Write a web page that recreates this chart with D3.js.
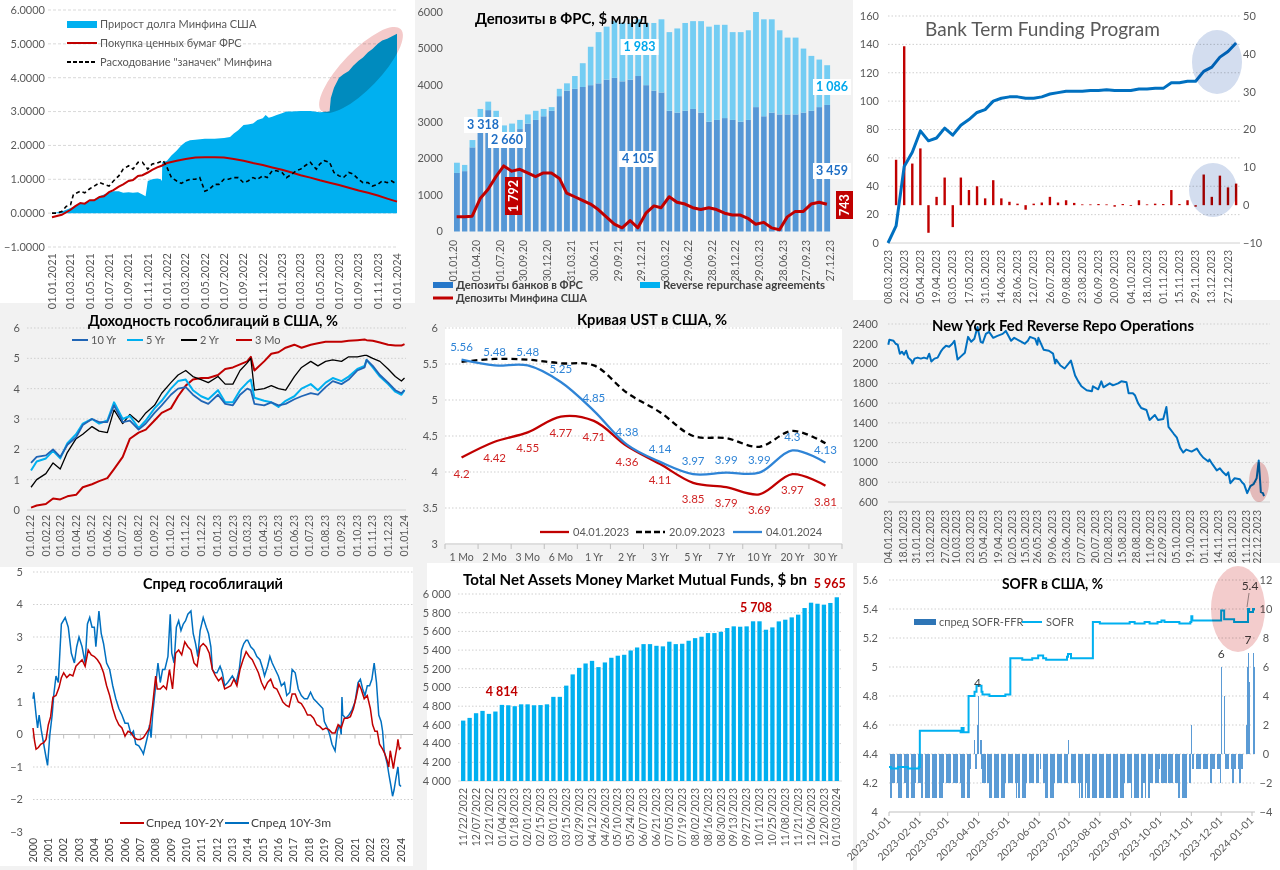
<!DOCTYPE html>
<html><head><meta charset="utf-8">
<script src="https://cdn.jsdelivr.net/npm/d3@7"></script>
<style>
body{margin:0;background:#f2f2f2;}
svg{display:block;font-family:Lato,"Noto Sans",sans-serif;}
</style></head><body>
<svg id="c" width="1280" height="870"></svg>
<script>
// ================= DATA =================
// Panel 1: cumulative, $ trn
const debtGrowth = [["2021-01-01",0],["2021-01-15",0.02],["2021-02-01",0.05],["2021-02-15",0.1],["2021-03-01",0.15],["2021-03-15",0.2],["2021-04-01",0.3],["2021-04-15",0.3],["2021-05-01",0.35],["2021-05-15",0.4],["2021-06-01",0.5],["2021-06-15",0.55],["2021-07-01",0.62],["2021-07-15",0.65],["2021-08-01",0.65],["2021-08-15",0.6],["2021-09-01",0.62],["2021-09-15",0.6],["2021-10-01",0.62],["2021-10-15",0.55],["2021-10-25",0.5],["2021-11-01",0.95],["2021-11-15",1.0],["2021-12-01",1.02],["2021-12-12",1.0],["2021-12-16",0.95],["2021-12-17",1.5],["2022-01-01",1.55],["2022-01-15",1.7],["2022-02-01",1.85],["2022-02-15",2.0],["2022-03-01",2.1],["2022-03-15",2.15],["2022-04-01",2.17],["2022-05-01",2.2],["2022-06-01",2.2],["2022-07-01",2.22],["2022-07-20",2.25],["2022-08-01",2.35],["2022-08-15",2.45],["2022-09-01",2.6],["2022-09-15",2.62],["2022-10-01",2.65],["2022-10-15",2.75],["2022-11-01",2.8],["2022-11-10",2.9],["2022-11-20",2.82],["2022-12-01",2.85],["2022-12-15",2.9],["2023-01-01",2.95],["2023-01-15",3.0],["2023-02-01",3.0],["2023-03-01",3.02],["2023-04-01",3.02],["2023-05-01",2.98],["2023-06-01",3.0],["2023-06-05",3.4],["2023-06-15",3.7],["2023-07-01",4.0],["2023-07-15",4.1],["2023-08-01",4.2],["2023-08-15",4.35],["2023-09-01",4.5],["2023-09-15",4.6],["2023-10-01",4.75],["2023-10-15",4.85],["2023-11-01",5.0],["2023-11-15",5.1],["2023-12-01",5.15],["2023-12-15",5.22],["2024-01-01",5.3]];
const fedPurchases = [["2021-01-01",-0.12],["2021-02-01",-0.05],["2021-03-01",0.1],["2021-03-15",0.2],["2021-04-01",0.3],["2021-04-15",0.28],["2021-05-01",0.38],["2021-05-15",0.38],["2021-06-01",0.48],["2021-06-15",0.5],["2021-07-01",0.62],["2021-07-15",0.68],["2021-08-01",0.78],["2021-08-15",0.85],["2021-09-01",0.95],["2021-09-15",0.98],["2021-10-01",1.1],["2021-10-15",1.12],["2021-11-01",1.2],["2021-11-15",1.28],["2021-12-01",1.35],["2021-12-15",1.4],["2022-01-01",1.48],["2022-02-01",1.55],["2022-03-01",1.6],["2022-04-01",1.64],["2022-05-01",1.65],["2022-06-01",1.65],["2022-07-01",1.64],["2022-08-01",1.6],["2022-09-01",1.55],["2022-10-01",1.48],["2022-11-01",1.42],["2022-12-01",1.35],["2023-01-01",1.28],["2023-02-01",1.2],["2023-03-01",1.12],["2023-04-01",1.05],["2023-05-01",0.97],["2023-06-01",0.9],["2023-07-01",0.83],["2023-08-01",0.75],["2023-09-01",0.67],["2023-10-01",0.6],["2023-11-01",0.52],["2023-12-01",0.43],["2024-01-01",0.34]];
const tgaSpend = [["2021-01-01",0.0],["2021-01-15",0.0],["2021-02-01",0.05],["2021-02-15",0.2],["2021-03-01",0.25],["2021-03-10",0.55],["2021-04-01",0.65],["2021-04-15",0.6],["2021-05-01",0.72],["2021-05-15",0.8],["2021-06-01",0.9],["2021-06-15",0.85],["2021-07-01",0.8],["2021-07-15",0.95],["2021-08-01",1.1],["2021-08-15",1.3],["2021-09-01",1.4],["2021-09-15",1.3],["2021-10-01",1.5],["2021-10-15",1.5],["2021-11-01",1.3],["2021-11-15",1.45],["2021-12-01",1.48],["2021-12-20",1.55],["2022-01-01",1.35],["2022-01-15",1.05],["2022-02-01",0.95],["2022-02-15",0.88],["2022-03-01",0.95],["2022-03-15",1.0],["2022-04-01",1.0],["2022-04-15",1.05],["2022-05-01",0.65],["2022-05-15",0.7],["2022-06-01",0.85],["2022-06-15",0.85],["2022-07-01",1.0],["2022-07-15",1.0],["2022-08-01",1.05],["2022-08-15",1.05],["2022-09-01",0.9],["2022-09-15",0.95],["2022-10-01",1.05],["2022-10-15",1.0],["2022-11-01",1.1],["2022-11-15",1.05],["2022-12-01",1.25],["2022-12-15",1.25],["2023-01-01",1.2],["2023-01-15",1.05],["2023-02-01",1.15],["2023-02-15",1.25],["2023-03-01",1.3],["2023-03-15",1.4],["2023-04-01",1.5],["2023-04-10",1.4],["2023-04-20",1.3],["2023-05-01",1.45],["2023-05-15",1.55],["2023-06-01",1.5],["2023-06-15",1.2],["2023-07-01",1.1],["2023-07-15",1.05],["2023-08-01",1.2],["2023-08-15",1.15],["2023-09-01",1.0],["2023-09-15",0.9],["2023-10-01",0.9],["2023-10-15",0.8],["2023-11-01",0.85],["2023-11-15",0.95],["2023-12-01",0.9],["2023-12-15",0.95],["2024-01-01",0.85]];

// Panel 2: monthly Jan 2020 .. Dec 2023, $ bn
const depMonths = ["2020-01","2020-02","2020-03","2020-04","2020-05","2020-06","2020-07","2020-08","2020-09","2020-10","2020-11","2020-12","2021-01","2021-02","2021-03","2021-04","2021-05","2021-06","2021-07","2021-08","2021-09","2021-10","2021-11","2021-12","2022-01","2022-02","2022-03","2022-04","2022-05","2022-06","2022-07","2022-08","2022-09","2022-10","2022-11","2022-12","2023-01","2023-02","2023-03","2023-04","2023-05","2023-06","2023-07","2023-08","2023-09","2023-10","2023-11","2023-12"];
const bankDeposits = [1600,1650,2300,3000,3318,3050,2700,2660,2800,2950,3050,3150, 3300,3700,3850,3900,3950,4000,4050,4150,4200,4105,4150,4250, 4000,3850,3800,3300,3250,3300,3350,3250,3000,3050,3100,3050, 3000,3050,3400,3150,3250,3200,3200,3200,3250,3300,3400,3459];
const reverseRepo = [280,170,200,350,232,250,200,290,250,250,250,200, 100,200,200,350,650,1050,1400,1450,1550,1595,1550,1550, 1700,1850,2000,2150,2300,2400,2400,2500,2600,2600,2550,2400, 2450,2450,2600,2650,2550,2300,2100,2100,1750,1500,1300,1086];
const treasuryDeposits = [400,400,420,900,1150,1500,1792,1650,1700,1600,1500,1600, 1600,1450,1050,950,850,750,600,400,200,100,300,100, 500,700,650,950,800,750,650,600,650,600,500,450, 450,350,200,250,100,50,400,550,550,750,800,743];
const depTicks = ["2020-01-01","2020-04-01","2020-07-01","2020-09-30","2020-12-30","2021-03-31","2021-06-30","2021-09-29","2021-12-29","2022-03-30","2022-06-29","2022-09-28","2022-12-28","2023-03-29","2023-06-28","2023-09-27","2023-12-27"];
const depNotes = [3318, 2660, 1983, 4105, 1086, 3459, 1792, 743];

// Panel 3: BTFP weekly, $ bn
const btfpWeeks = ["2023-03-08","2023-03-15","2023-03-22","2023-03-29","2023-04-05","2023-04-12","2023-04-19","2023-04-26","2023-05-03","2023-05-10","2023-05-17","2023-05-24","2023-05-31","2023-06-07","2023-06-14","2023-06-21","2023-06-28","2023-07-05","2023-07-12","2023-07-19","2023-07-26","2023-08-02","2023-08-09","2023-08-16","2023-08-23","2023-08-30","2023-09-06","2023-09-13","2023-09-20","2023-09-27","2023-10-04","2023-10-11","2023-10-18","2023-10-25","2023-11-01","2023-11-08","2023-11-15","2023-11-22","2023-11-29","2023-12-06","2023-12-13","2023-12-20","2023-12-27","2024-01-03"];
const btfpTotal = [0,12,54,64,79,72,74,81,76,83,87,92,94,100,102,103,103,102,102,103,105,106,107,107,107,107.5,107.5,108,107.5,107.5,107.5,108.5,108.5,109,109,113,113,114,114,121,124,131,135,141];
const btfpChange = [0,12,42,11,15,-7.3,2.2,7.3,-5.8,7.3,4,5,1.8,6.6,1.8,0.9,0.4,-1.2,0.4,0.7,2.2,0.7,1.3,0.6,0.2,0.2,0.3,0.2,-0.4,0.3,-0.2,1.3,0.2,0.4,0.3,4,0.3,1.3,-0.4,8.1,2.2,7.8,4.7,5.7];

// Panel 4: UST yields, %
const ustDates = ["2022-01-03","2022-01-14","2022-02-01","2022-02-15","2022-03-01","2022-03-15","2022-04-01","2022-04-14","2022-05-02","2022-05-16","2022-06-01","2022-06-14","2022-07-01","2022-07-15","2022-08-01","2022-08-15","2022-09-01","2022-09-15","2022-10-03","2022-10-17","2022-11-01","2022-11-15","2022-12-01","2022-12-15","2023-01-03","2023-01-17","2023-02-01","2023-02-15","2023-03-01","2023-03-08","2023-03-15","2023-04-03","2023-04-17","2023-05-01","2023-05-15","2023-06-01","2023-06-15","2023-07-03","2023-07-17","2023-08-01","2023-08-15","2023-09-01","2023-09-15","2023-10-02","2023-10-16","2023-10-20","2023-11-01","2023-11-15","2023-12-01","2023-12-15","2023-12-27","2024-01-02"];
const yield10 = [1.55,1.75,1.8,2.0,1.75,2.15,2.4,2.8,3.0,2.9,2.9,3.45,2.9,2.95,2.65,2.85,3.2,3.45,3.8,4.0,4.05,3.8,3.6,3.5,3.8,3.5,3.45,3.8,4.0,3.95,3.5,3.45,3.55,3.45,3.5,3.65,3.75,3.85,3.8,4.05,4.25,4.15,4.3,4.6,4.7,4.95,4.75,4.45,4.2,3.95,3.85,3.95];
const yield5 = [1.3,1.6,1.7,1.95,1.7,2.2,2.5,2.85,3.0,2.85,2.95,3.55,3.0,3.1,2.7,2.95,3.35,3.6,4.0,4.25,4.3,3.95,3.75,3.65,3.95,3.55,3.55,3.95,4.2,4.3,3.7,3.6,3.55,3.4,3.6,3.75,4.0,4.15,3.95,4.2,4.35,4.25,4.4,4.65,4.75,4.95,4.7,4.4,4.15,3.9,3.8,3.95];
const yield2 = [0.75,1.0,1.2,1.55,1.35,1.9,2.35,2.5,2.75,2.6,2.55,3.3,2.85,3.15,2.9,3.2,3.45,3.85,4.2,4.45,4.6,4.4,4.3,4.2,4.4,4.15,4.15,4.6,4.85,5.0,3.95,4.0,4.1,4.0,3.95,4.4,4.7,4.9,4.75,4.9,4.95,4.9,5.05,5.05,5.1,5.1,5.0,4.9,4.65,4.4,4.25,4.35];
const yield3m = [0.08,0.15,0.2,0.38,0.35,0.45,0.5,0.75,0.85,0.95,1.05,1.35,1.75,2.35,2.55,2.65,2.95,3.2,3.35,3.75,4.1,4.3,4.35,4.35,4.45,4.65,4.7,4.8,4.9,5.05,4.6,4.9,5.15,5.2,5.35,5.45,5.35,5.45,5.5,5.55,5.55,5.55,5.58,5.6,5.62,5.6,5.58,5.52,5.45,5.42,5.42,5.47];

// Panel 5: yield curves
const tenors = ["1 Mo","2 Mo","3 Mo","6 Mo","1 Yr","2 Yr","3 Yr","5 Yr","7 Yr","10 Yr","20 Yr","30 Yr"];
const curve20230104 = [4.2,4.42,4.55,4.77,4.71,4.36,4.11,3.85,3.79,3.69,3.97,3.81];
const curve20230920 = [5.53,5.57,5.56,5.51,5.48,5.1,4.83,4.5,4.47,4.35,4.57,4.4];
const curve20240104 = [5.56,5.48,5.48,5.25,4.85,4.38,4.14,3.97,3.99,3.99,4.3,4.13];

// Panel 6: NY Fed reverse repo, $ bn
const rrpOps = [["2023-01-04",2190],["2023-01-05",2240],["2023-01-09",2230],["2023-01-11",2200],["2023-01-13",2190],["2023-01-15",2100],["2023-01-17",2120],["2023-01-19",2090],["2023-01-21",2130],["2023-01-23",2060],["2023-01-26",2030],["2023-01-27",2000],["2023-01-29",2050],["2023-02-01",2060],["2023-02-04",2050],["2023-02-07",2060],["2023-02-10",2050],["2023-02-12",2100],["2023-02-14",2020],["2023-02-17",2050],["2023-02-20",2060],["2023-02-23",2120],["2023-02-25",2150],["2023-02-28",2180],["2023-03-03",2170],["2023-03-06",2200],["2023-03-08",2230],["2023-03-11",2040],["2023-03-14",2070],["2023-03-18",2110],["2023-03-21",2270],["2023-03-24",2220],["2023-03-27",2250],["2023-03-30",2370],["2023-04-02",2220],["2023-04-04",2210],["2023-04-07",2300],["2023-04-10",2320],["2023-04-14",2260],["2023-04-18",2280],["2023-04-23",2300],["2023-04-26",2330],["2023-05-01",2230],["2023-05-04",2260],["2023-05-11",2220],["2023-05-14",2200],["2023-05-17",2230],["2023-05-19",2270],["2023-05-24",2250],["2023-05-26",2190],["2023-05-27",2260],["2023-06-01",2140],["2023-06-06",2130],["2023-06-10",2100],["2023-06-12",2000],["2023-06-13",2040],["2023-06-17",1980],["2023-06-21",1950],["2023-06-27",2030],["2023-07-01",1880],["2023-07-04",1820],["2023-07-07",1770],["2023-07-12",1730],["2023-07-17",1720],["2023-07-18",1770],["2023-07-23",1740],["2023-07-26",1820],["2023-07-28",1760],["2023-08-03",1800],["2023-08-06",1780],["2023-08-11",1800],["2023-08-14",1820],["2023-08-19",1810],["2023-08-21",1700],["2023-08-25",1700],["2023-08-27",1680],["2023-08-30",1600],["2023-09-02",1550],["2023-09-07",1530],["2023-09-10",1430],["2023-09-15",1480],["2023-09-18",1430],["2023-09-23",1440],["2023-09-26",1560],["2023-09-28",1360],["2023-10-03",1290],["2023-10-06",1250],["2023-10-09",1150],["2023-10-12",1100],["2023-10-15",1130],["2023-10-20",1110],["2023-10-25",1140],["2023-10-28",1090],["2023-10-31",1050],["2023-11-05",1010],["2023-11-06",1030],["2023-11-09",980],["2023-11-13",920],["2023-11-16",940],["2023-11-19",900],["2023-11-22",870],["2023-11-24",900],["2023-11-26",790],["2023-11-30",840],["2023-12-05",830],["2023-12-07",800],["2023-12-09",780],["2023-12-12",690],["2023-12-15",760],["2023-12-18",780],["2023-12-21",840],["2023-12-23",1020],["2023-12-25",700],["2023-12-27",690],["2023-12-28",660]];
const rrpTicks = ["2023-01-04","2023-01-18","2023-01-31","2023-02-13","2023-02-27","2023-03-10","2023-03-23","2023-04-05","2023-04-19","2023-05-02","2023-05-15","2023-05-26","2023-06-09","2023-06-23","2023-07-07","2023-07-20","2023-08-02","2023-08-15","2023-08-28","2023-09-11","2023-09-22","2023-10-05","2023-10-19","2023-11-01","2023-11-14","2023-11-28","2023-12-11","2023-12-22"];

// Panel 7: spreads (decimal year, p.p.)
const spread10y2y = [[2000.0,0.2],[2000.1,-0.2],[2000.2,-0.45],[2000.35,-0.4],[2000.5,-0.3],[2000.7,-0.25],[2000.85,-0.15],[2001.0,0.3],[2001.15,0.55],[2001.3,1.15],[2001.5,1.2],[2001.7,1.45],[2001.85,1.75],[2002.0,1.9],[2002.2,1.75],[2002.4,1.85],[2002.6,1.8],[2002.8,2.1],[2003.0,2.2],[2003.2,2.3],[2003.4,2.1],[2003.6,2.6],[2003.8,2.45],[2004.0,2.4],[2004.2,2.3],[2004.4,2.15],[2004.6,1.9],[2004.8,1.5],[2005.0,1.2],[2005.2,0.8],[2005.4,0.5],[2005.6,0.3],[2005.8,0.2],[2006.0,-0.05],[2006.2,0.1],[2006.4,0.05],[2006.6,-0.1],[2006.8,-0.15],[2007.0,-0.15],[2007.2,-0.1],[2007.4,0.05],[2007.6,0.2],[2007.8,0.9],[2008.0,1.8],[2008.1,1.4],[2008.3,1.4],[2008.5,1.5],[2008.7,1.4],[2008.9,2.0],[2009.1,1.4],[2009.3,2.5],[2009.5,2.6],[2009.7,2.45],[2009.9,2.85],[2010.1,2.7],[2010.3,2.6],[2010.5,2.2],[2010.7,2.1],[2010.9,2.7],[2011.1,2.8],[2011.3,2.7],[2011.5,2.5],[2011.7,2.0],[2011.9,1.8],[2012.1,1.65],[2012.3,1.75],[2012.5,1.4],[2012.7,1.45],[2012.9,1.5],[2013.1,1.7],[2013.3,1.5],[2013.5,2.0],[2013.7,2.3],[2013.9,2.55],[2014.1,2.4],[2014.3,2.3],[2014.5,2.1],[2014.7,1.9],[2014.9,1.6],[2015.1,1.4],[2015.3,1.6],[2015.5,1.7],[2015.7,1.45],[2015.9,1.4],[2016.1,1.2],[2016.3,1.0],[2016.5,0.9],[2016.7,0.85],[2016.9,1.25],[2017.1,1.25],[2017.3,1.0],[2017.5,0.95],[2017.7,0.8],[2017.9,0.6],[2018.1,0.6],[2018.3,0.5],[2018.5,0.3],[2018.7,0.25],[2018.9,0.15],[2019.1,0.2],[2019.3,0.15],[2019.5,0.05],[2019.7,0.05],[2019.9,0.3],[2020.1,0.2],[2020.3,0.5],[2020.5,0.5],[2020.7,0.55],[2020.9,0.8],[2021.1,1.2],[2021.25,1.55],[2021.4,1.4],[2021.6,1.1],[2021.8,1.2],[2022.0,0.8],[2022.15,0.3],[2022.3,0.1],[2022.45,0.1],[2022.6,-0.3],[2022.8,-0.45],[2022.95,-0.6],[2023.1,-0.8],[2023.2,-1.0],[2023.3,-0.5],[2023.45,-0.9],[2023.5,-1.05],[2023.6,-0.75],[2023.75,-0.35],[2023.8,-0.15],[2023.9,-0.45],[2024.0,-0.4]];
const spread10y3m = [[2000.0,1.1],[2000.05,1.3],[2000.2,0.6],[2000.3,0.2],[2000.4,0.6],[2000.55,0.1],[2000.7,-0.3],[2000.85,-0.7],[2000.95,-0.95],[2001.1,0.0],[2001.25,0.6],[2001.35,1.2],[2001.5,1.8],[2001.65,1.6],[2001.75,2.5],[2001.85,3.4],[2002.1,3.6],[2002.3,3.3],[2002.5,2.5],[2002.7,2.2],[2002.85,2.7],[2003.0,3.0],[2003.2,2.7],[2003.4,2.2],[2003.55,3.4],[2003.7,3.6],[2003.85,3.3],[2004.0,3.3],[2004.1,2.7],[2004.3,3.8],[2004.45,3.1],[2004.6,2.8],[2004.8,2.2],[2005.0,2.0],[2005.2,1.5],[2005.4,1.1],[2005.6,0.8],[2005.8,0.6],[2006.0,0.35],[2006.2,0.35],[2006.4,0.0],[2006.55,0.1],[2006.7,-0.3],[2006.9,-0.35],[2007.1,-0.5],[2007.2,-0.6],[2007.35,-0.3],[2007.5,0.0],[2007.6,0.3],[2007.7,-0.1],[2007.8,0.6],[2008.0,1.5],[2008.15,2.2],[2008.3,1.6],[2008.45,2.0],[2008.6,2.0],[2008.8,2.4],[2008.95,3.7],[2009.05,2.5],[2009.2,2.2],[2009.35,3.3],[2009.5,3.5],[2009.65,3.2],[2009.8,3.4],[2009.95,3.5],[2010.1,3.7],[2010.3,3.8],[2010.45,3.1],[2010.6,2.8],[2010.75,2.4],[2010.9,3.2],[2011.1,3.6],[2011.3,3.3],[2011.45,3.1],[2011.6,2.7],[2011.7,2.0],[2011.85,1.9],[2012.0,1.9],[2012.2,2.1],[2012.35,1.9],[2012.5,1.5],[2012.7,1.6],[2012.85,1.7],[2013.0,1.8],[2013.25,1.6],[2013.45,2.0],[2013.6,2.6],[2013.75,2.8],[2013.9,2.9],[2014.0,2.9],[2014.2,2.7],[2014.4,2.6],[2014.6,2.4],[2014.8,2.3],[2015.0,2.0],[2015.1,1.8],[2015.3,2.1],[2015.45,2.4],[2015.6,2.2],[2015.8,2.0],[2016.0,1.8],[2016.2,1.5],[2016.4,1.6],[2016.55,1.2],[2016.75,1.3],[2016.9,2.0],[2017.1,1.9],[2017.3,1.4],[2017.5,1.2],[2017.7,1.1],[2017.9,1.1],[2018.1,1.3],[2018.3,1.1],[2018.5,1.0],[2018.7,0.9],[2018.9,0.8],[2019.0,0.4],[2019.2,0.2],[2019.35,0.0],[2019.5,-0.3],[2019.7,-0.5],[2019.85,0.1],[2020.0,0.3],[2020.1,0.0],[2020.15,1.15],[2020.2,0.6],[2020.4,0.5],[2020.6,0.6],[2020.8,0.75],[2021.0,1.0],[2021.2,1.6],[2021.35,1.7],[2021.5,1.4],[2021.65,1.2],[2021.8,1.5],[2021.95,1.5],[2022.1,1.7],[2022.25,2.2],[2022.3,2.0],[2022.4,1.6],[2022.55,0.6],[2022.7,0.4],[2022.8,0.1],[2022.9,-0.5],[2023.0,-0.7],[2023.1,-0.9],[2023.2,-1.2],[2023.35,-1.6],[2023.45,-1.9],[2023.55,-1.7],[2023.65,-1.4],[2023.8,-1.0],[2023.9,-1.55],[2024.0,-1.6]];

// Panel 8: MMF total net assets, $ bn
const mmfWeeks = ["11/22/2022","11/30/2022","12/07/2022","12/14/2022","12/21/2022","12/28/2022","01/04/2023","01/11/2023","01/18/2023","01/25/2023","02/01/2023","02/08/2023","02/15/2023","02/22/2023","03/01/2023","03/08/2023","03/15/2023","03/22/2023","03/29/2023","04/05/2023","04/12/2023","04/19/2023","04/26/2023","05/03/2023","05/10/2023","05/17/2023","05/24/2023","05/31/2023","06/07/2023","06/14/2023","06/21/2023","06/28/2023","07/05/2023","07/12/2023","07/19/2023","07/26/2023","08/02/2023","08/09/2023","08/16/2023","08/23/2023","08/30/2023","09/06/2023","09/13/2023","09/20/2023","09/27/2023","10/04/2023","10/11/2023","10/18/2023","10/25/2023","11/01/2023","11/08/2023","11/15/2023","11/21/2023","11/29/2023","12/06/2023","12/13/2023","12/20/2023","12/27/2023","01/03/2024"];
const mmfAssets = [4646,4675,4725,4750,4718,4743,4814,4810,4800,4820,4820,4810,4812,4820,4900,4900,5020,5140,5210,5257,5285,5218,5268,5318,5340,5350,5396,5428,5464,5464,5446,5440,5490,5464,5468,5500,5528,5543,5582,5582,5596,5636,5654,5650,5654,5708,5708,5618,5643,5707,5725,5750,5779,5850,5907,5896,5886,5904,5965];
const mmfNotes = [[6,4814],[45,5708],[58,5965]];

// Panel 9: SOFR (%) and SOFR-FFR spread (bp, weekdays 2023-01-02 .. 2024-01-03)
const sofr = [["2023-01-01",4.31],["2023-01-03",4.30],["2023-01-10",4.31],["2023-01-20",4.30],["2023-01-31",4.31],["2023-02-01",4.56],["2023-03-14",4.55],["2023-03-15",4.58],["2023-03-17",4.55],["2023-03-22",4.80],["2023-03-28",4.83],["2023-03-30",4.87],["2023-04-01",4.87],["2023-04-04",4.83],["2023-04-05",4.81],["2023-04-12",4.80],["2023-04-28",4.81],["2023-05-03",5.06],["2023-05-15",5.05],["2023-05-25",5.06],["2023-05-31",5.08],["2023-06-05",5.06],["2023-06-08",5.05],["2023-06-29",5.07],["2023-06-30",5.09],["2023-07-03",5.06],["2023-07-25",5.31],["2023-08-01",5.30],["2023-08-31",5.31],["2023-09-05",5.30],["2023-09-15",5.31],["2023-09-20",5.30],["2023-09-28",5.31],["2023-10-02",5.32],["2023-10-05",5.31],["2023-10-20",5.30],["2023-10-31",5.31],["2023-11-01",5.35],["2023-11-02",5.32],["2023-11-30",5.32],["2023-12-01",5.39],["2023-12-04",5.33],["2023-12-14",5.31],["2023-12-27",5.31],["2023-12-28",5.40],["2023-12-29",5.38],["2024-01-02",5.40],["2024-01-03",5.39]];
const sofrFfrSpread = [
 -3,-3,-2,-2,-2, -2,-3,-3,-3,-3, -2,-2,-3,-3,-3, -3,-3,-3,-3,-2, -2,-2,
 -2,-3,-3, -3,-3,-3,-3,-3, -3,-3,-3,-3,-3, -3,-3,-3,-3,-2, -2,-2,
 -2,-2,-2, -2,-2,-2,-2,-2, -2,-3,-3,-3,-3, -3,-3,-3,-1,0, 1,-1,-1,2,4,
 1,-1,-2,-2,-2, -2,-2,-3,-3,-3, -3,-3,-3,-3,-3, -3,-3,-3,-3,-2,
 -2,-2,-2,-2,-2, -2,-3,-2,-3,-3, -3,-3,-3,-3,-2, -2,-2,-2,-2,-2, -2,-2,-2,
 0,-1, -2,-2,-3,-3,-3, -3,-3,-3,-3,-2, -2,-2,-2,-2,-2, -2,-2,-2,-2,1,
 -2,-2,-2,-2,-2, -2,-3,-2,-3,-3, -3,-2,-3,-3,-3, -3,-3,-3,-3,-3, -3,
 -3,-3,-3,-3, -3,-3,-3,-3,-3, -3,-3,-3,-3,-3, -3,-3,-3,-3,-2, -2,-2,-2,-2,
 -3, -3,-3,-3,-3,-3, -3,-3,-2,-2,-3, -3,-3,-2,-2,-2, -2,-2,-2,-2,-1,
 -2,-2,-1,-2,-2, -2,-2,-2,-2,-2, -2,-2,-2,-3,-3, -3,-3,-3,-3,-3, -2,-2,
 2,-1,-1, -1,-1,-1,-1,-1, -1,-1,-1,-1,-1, -2,-2,-1,-1,-1, -1,-1,-1,-2,
 6, 4,-1,-1,-1,-1, -1,-2,-2,-1,-1, -1,-2,-2,-1,-1, 0,2,6,7,5,
 0,7,6];
const sofrNotes = [["2023-03-31",4],["2023-12-01",6],["2023-12-28",7]];

// ================= DRAWING =================
const parse = d3.timeParse('%Y-%m-%d');
const svg = d3.select('#c');
const GRAY = '#595959';
const loc = d3.formatLocale({decimal:'.', thousands:' ', grouping:[3], currency:['','']});
const fmtSp = loc.format(',');

function txt(g, x, y, s, o = {}) {
  const t = g.append('text').attr('x', x).attr('y', y).text(s)
    .attr('font-size', o.size || 11).attr('fill', o.fill || GRAY)
    .attr('text-anchor', o.anchor || 'start')
    .attr('font-weight', o.weight || 'normal')
    .attr('dy', o.dy || null);
  if (o.len) t.attr('textLength', o.len).attr('lengthAdjust', 'spacingAndGlyphs');
  return t;
}
function hgrid(g, y, ticks, x0, x1, o = {}) {
  g.append('g').selectAll('line').data(ticks).join('line')
    .attr('x1', x0).attr('x2', x1).attr('y1', d => y(d)).attr('y2', d => y(d))
    .attr('stroke', o.stroke || '#cfcfcf').attr('stroke-width', 1)
    .attr('stroke-dasharray', o.dash || '1.5,2');
}
function yLabels(g, y, ticks, x, fmt, o = {}) {
  g.append('g').selectAll('text').data(ticks).join('text')
    .attr('x', x).attr('y', d => y(d)).attr('dy', '0.35em')
    .attr('text-anchor', o.anchor || 'end').attr('font-size', o.size || 11).attr('fill', o.fill || GRAY)
    .text(fmt);
}
function vLabels(g, xpos, items, y, fmt, o = {}) {
  g.append('g').selectAll('text').data(items).join('text')
    .attr('transform', d => `translate(${xpos(d)},${y}) rotate(${o.angle || -90})`)
    .attr('text-anchor', 'end').attr('dy', o.dy || '0.35em')
    .attr('font-size', o.size || 10.5).attr('fill', o.fill || GRAY).text(fmt);
}
function legLine(g, x, y, w, color, width, dash) {
  g.append('line').attr('x1', x).attr('x2', x + w).attr('y1', y).attr('y2', y)
    .attr('stroke', color).attr('stroke-width', width).attr('stroke-dasharray', dash || null);
}
function panelBg(x, y, w, h) {
  svg.append('rect').attr('x', x).attr('y', y).attr('width', w).attr('height', h).attr('fill', '#fff');
}

// ---------- Panel 1 ----------
(function () {
  panelBg(0, 0, 415, 303);
  const g = svg.append('g');
  const x = d3.scaleTime().domain([parse('2021-01-01'), parse('2024-01-01')]).range([52, 397]);
  const y = d3.scaleLinear().domain([-1, 6]).range([247, 10]);
  hgrid(g, y, d3.range(-1, 7), 48, 398, {dash: '3,2', stroke: '#d9d9d9'});
  yLabels(g, y, d3.range(-1, 7), 45, d3.format('.4f'));
  const ticks = d3.timeMonth.every(2).range(parse('2021-01-01'), parse('2024-01-02'));
  vLabels(g, d => x(d), ticks, 253, d3.timeFormat('%d.%m.%Y'), {size: 11});
  g.append('path').datum(debtGrowth)
    .attr('d', d3.area().x(d => x(parse(d[0]))).y0(y(0)).y1(d => y(d[1])))
    .attr('fill', '#00b0f0');
  g.append('path').datum(fedPurchases)
    .attr('d', d3.line().x(d => x(parse(d[0]))).y(d => y(d[1])))
    .attr('fill', 'none').attr('stroke', '#c00000').attr('stroke-width', 2);
  g.append('path').datum(tgaSpend)
    .attr('d', d3.line().x(d => x(parse(d[0]))).y(d => y(d[1])))
    .attr('fill', 'none').attr('stroke', '#000').attr('stroke-width', 1.6).attr('stroke-dasharray', '4,3');
  g.append('ellipse').attr('transform', 'translate(361,70) rotate(-46)')
    .attr('rx', 57).attr('ry', 19).attr('fill', '#f4caca').style('mix-blend-mode', 'multiply');
  g.append('rect').attr('x', 67).attr('y', 21).attr('width', 30).attr('height', 7).attr('fill', '#00b0f0');
  txt(g, 100, 24.5, 'Прирост долга Минфина США', {dy: '0.35em'});
  legLine(g, 67, 43, 30, '#c00000', 2);
  txt(g, 100, 43, 'Покупка ценных бумаг ФРС', {dy: '0.35em'});
  legLine(g, 67, 62, 30, '#000', 1.8, '4,2');
  txt(g, 100, 62, 'Расходование "заначек" Минфина', {dy: '0.35em'});
})();

// ---------- Panel 2 ----------
(function () {
  const g = svg.append('g');
  const x = d3.scaleTime().domain([parse('2020-01-01'), parse('2023-12-27')]).range([453, 830]);
  const y = d3.scaleLinear().domain([0, 6000]).range([231.5, 12]);
  yLabels(g, y, d3.range(0, 6001, 1000), 443, d3.format('d'));
  vLabels(g, d => x(parse(d)), depTicks, 240, d => d3.timeFormat('%d.%m.%y')(parse(d)), {size: 10.5});
  const mStart = m => parse(m + '-01');
  const mEnd = m => d3.timeMonth.offset(parse(m + '-01'), 1);
  const bars = g.append('g');
  depMonths.forEach((m, i) => {
    const x0 = x(mStart(m)) + 1, w = x(mEnd(m)) - x(mStart(m)) - 2.2;
    bars.append('rect').attr('x', x0).attr('width', w)
      .attr('y', y(bankDeposits[i])).attr('height', y(0) - y(bankDeposits[i])).attr('fill', '#5597d6');
    bars.append('rect').attr('x', x0).attr('width', w)
      .attr('y', y(bankDeposits[i] + reverseRepo[i])).attr('height', y(bankDeposits[i]) - y(bankDeposits[i] + reverseRepo[i]))
      .attr('fill', '#74cdf3');
  });
  g.append('path').datum(depMonths)
    .attr('d', d3.line().x(m => x(d3.timeDay.offset(mStart(m), 14))).y((m, i) => y(treasuryDeposits[i])))
    .attr('fill', 'none').attr('stroke', '#c00000').attr('stroke-width', 3).attr('stroke-linejoin', 'round');
  txt(g, 475, 24, 'Депозиты в ФРС, $ млрд', {size: 16, weight: 'bold', fill: '#000', len: 173});
  const boxes = [[0, 483, 125, '#1f6fc5'], [1, 507, 140, '#1f6fc5'], [2, 639.5, 47, '#00a8ec'], [3, 638, 159, '#1f6fc5'], [4, 832, 87, '#00a8ec'], [5, 832, 171, '#1f6fc5']];
  boxes.forEach(([k, cx, cy, col]) => {
    const t = txt(g, cx, cy, fmtSp(depNotes[k]), {size: 12.5, weight: 'bold', fill: col, anchor: 'middle', dy: '0.35em'});
    const w = t.node().getComputedTextLength() + 6;
    g.insert('rect', () => t.node()).attr('x', cx - w / 2).attr('y', cy - 8).attr('width', w).attr('height', 16).attr('fill', '#fff');
  });
  [[6, 513.5, 196, 38], [7, 844.5, 205, 28]].forEach(([k, cx, cy, h]) => {
    g.append('rect').attr('x', cx - 8.5).attr('y', cy - h / 2).attr('width', 17).attr('height', h).attr('fill', '#c00000');
    g.append('text').attr('transform', `translate(${cx},${cy}) rotate(-90)`).attr('text-anchor', 'middle').attr('dy', '0.36em')
      .attr('font-size', 12.5).attr('font-weight', 'bold').attr('fill', '#fff').text(fmtSp(depNotes[k]));
  });
  g.append('rect').attr('x', 433).attr('y', 282).attr('width', 20).attr('height', 6).attr('fill', '#2677c9');
  txt(g, 456, 285, 'Депозиты банков в ФРС', {size: 12, weight: 'bold', fill: '#404040', dy: '0.35em', len: 127});
  g.append('rect').attr('x', 640).attr('y', 282).attr('width', 20).attr('height', 6).attr('fill', '#00b0f0');
  txt(g, 663, 285, 'Reverse repurchase agreements', {size: 12, weight: 'bold', fill: '#404040', dy: '0.35em', len: 162});
  legLine(g, 433, 298, 20, '#c00000', 3);
  txt(g, 456, 298, 'Депозиты Минфина США', {size: 12, weight: 'bold', fill: '#404040', dy: '0.35em', len: 131});
})();

// ---------- Panel 3 ----------
(function () {
  panelBg(853, 0, 427, 300);
  const g = svg.append('g');
  const x = d3.scaleTime().domain([parse('2023-03-08'), parse('2023-12-27')]).range([888, 1228]);
  const yL = d3.scaleLinear().domain([0, 160]).range([243, 16]);
  const yR = d3.scaleLinear().domain([-10, 50]).range([243, 16]);
  hgrid(g, yL, d3.range(20, 161, 20), 888, 1240);
  g.append('line').attr('x1', 888).attr('x2', 1240).attr('y1', 243).attr('y2', 243).attr('stroke', '#d0d0d0');
  yLabels(g, yL, d3.range(0, 161, 20), 879, d3.format('d'));
  yLabels(g, yR, d3.range(-10, 51, 10), 1243, d3.format('d'), {anchor: 'start'});
  const ticks = d3.range(0, 22).map(i => d3.timeDay.offset(parse('2023-03-08'), 14 * i));
  vLabels(g, d => x(d), ticks, 250, d3.timeFormat('%d.%m.%Y'), {size: 10.5});
  g.append('g').selectAll('rect').data(btfpWeeks.map((d, i) => [d, btfpChange[i]]).filter(d => d[1] !== 0)).join('rect')
    .attr('x', d => x(parse(d[0])) - 1.2).attr('width', 2.4)
    .attr('y', d => Math.min(yR(0), yR(d[1]))).attr('height', d => Math.abs(yR(d[1]) - yR(0)))
    .attr('fill', '#c00000');
  g.append('path').datum(btfpWeeks)
    .attr('d', d3.line().x(d => x(parse(d))).y((d, i) => yL(btfpTotal[i])))
    .attr('fill', 'none').attr('stroke', '#0070c0').attr('stroke-width', 3).attr('stroke-linejoin', 'round');
  g.append('ellipse').attr('cx', 1217).attr('cy', 62).attr('rx', 25).attr('ry', 32).attr('fill', '#d3ddef').style('mix-blend-mode', 'multiply');
  g.append('ellipse').attr('cx', 1213).attr('cy', 190).attr('rx', 24).attr('ry', 27).attr('fill', '#d3ddef').style('mix-blend-mode', 'multiply');
  txt(g, 925, 36, 'Bank Term Funding Program', {size: 20, fill: GRAY, len: 235});
})();

// ---------- Panel 4 ----------
(function () {
  const g = svg.append('g');
  const x = d3.scaleTime().domain([parse('2022-01-01'), parse('2024-01-01')]).range([30, 404]);
  const y = d3.scaleLinear().domain([0, 6]).range([510, 328]);
  hgrid(g, y, d3.range(1, 7), 27, 406);
  g.append('line').attr('x1', 27).attr('x2', 406).attr('y1', 510).attr('y2', 510).attr('stroke', '#d0d0d0');
  yLabels(g, y, d3.range(0, 7), 20, d3.format('d'));
  const ticks = d3.timeMonth.range(parse('2022-01-01'), parse('2024-01-02'));
  vLabels(g, d => x(d), ticks, 515, d3.timeFormat('%d.%m.%y'), {size: 10.5});
  const series = [[yield3m, '#c00000', 2], [yield2, '#000', 1.3], [yield5, '#00b0f0', 2], [yield10, '#2065b5', 1.8]];
  series.forEach(([vals, col, w]) => {
    g.append('path').datum(ustDates)
      .attr('d', d3.line().x(d => x(parse(d))).y((d, i) => y(vals[i])))
      .attr('fill', 'none').attr('stroke', col).attr('stroke-width', w).attr('stroke-linejoin', 'round');
  });
  txt(g, 88, 326, 'Доходность гособлигаций в США, %', {size: 15.5, weight: 'bold', fill: '#000', len: 250});
  const leg = [['10 Yr', '#2065b5', 72], ['5 Yr', '#00b0f0', 127], ['2 Yr', '#000', 181], ['3 Mo', '#c00000', 236]];
  leg.forEach(([s, c, lx]) => { legLine(g, lx, 340, 16, c, 2); txt(g, lx + 19, 340, s, {dy: '0.35em'}); });
})();

// ---------- Panel 5 ----------
(function () {
  svg.append('rect').attr('x', 445).attr('y', 327).attr('width', 397).attr('height', 218).attr('fill', '#fff');
  const g = svg.append('g');
  const x = d3.scaleBand().domain(tenors).range([445, 842]);
  const cx = t => x(t) + x.bandwidth() / 2;
  const y = d3.scaleLinear().domain([3, 6]).range([544, 328]);
  hgrid(g, y, [3.5, 4, 4.5, 5, 5.5, 6], 445, 842);
  g.append('line').attr('x1', 445).attr('x2', 842).attr('y1', 544).attr('y2', 544).attr('stroke', '#bfbfbf');
  g.append('g').selectAll('line').data(tenors.concat(['end'])).join('line')
    .attr('x1', (d, i) => 445 + i * x.step()).attr('x2', (d, i) => 445 + i * x.step())
    .attr('y1', 544).attr('y2', 549).attr('stroke', '#bfbfbf');
  yLabels(g, y, [3, 3.5, 4, 4.5, 5, 5.5, 6], 438, d3.format(''));
  g.append('g').selectAll('text').data(tenors).join('text')
    .attr('x', d => cx(d)).attr('y', 557).attr('dy', '0.35em').attr('text-anchor', 'middle')
    .attr('font-size', 10.5).attr('fill', GRAY).text(d => d);
  const line = vals => d3.line().curve(d3.curveCatmullRom.alpha(0.5)).x(d => cx(d)).y((d, i) => y(vals[i]))(tenors);
  g.append('path').attr('d', line(curve20230920)).attr('fill', 'none').attr('stroke', '#000').attr('stroke-width', 2.3).attr('stroke-dasharray', '6,4');
  g.append('path').attr('d', line(curve20230104)).attr('fill', 'none').attr('stroke', '#c00000').attr('stroke-width', 2.3);
  g.append('path').attr('d', line(curve20240104)).attr('fill', 'none').attr('stroke', '#2f84d6').attr('stroke-width', 2.3);
  g.append('g').selectAll('text').data(tenors).join('text')
    .attr('x', d => cx(d)).attr('y', (d, i) => y(curve20240104[i]) - 13).attr('dy', '0.35em').attr('text-anchor', 'middle')
    .attr('font-size', 11.5).attr('fill', '#2f84d6').text((d, i) => curve20240104[i]);
  g.append('g').selectAll('text').data(tenors).join('text')
    .attr('x', d => cx(d)).attr('y', (d, i) => y(curve20230104[i]) + 16).attr('dy', '0.35em').attr('text-anchor', 'middle')
    .attr('font-size', 11.5).attr('fill', '#d02424').text((d, i) => curve20230104[i]);
  txt(g, 577, 325, 'Кривая UST в США, %', {size: 15.5, weight: 'bold', fill: '#000', len: 150});
  legLine(g, 540, 532, 29, '#c00000', 2.3); txt(g, 573, 532, '04.01.2023', {dy: '0.35em'});
  legLine(g, 636, 532, 29, '#000', 2.3, '6,3'); txt(g, 669, 532, '20.09.2023', {dy: '0.35em'});
  legLine(g, 733, 532, 29, '#2f84d6', 2.3); txt(g, 766, 532, '04.01.2024', {dy: '0.35em'});
})();

// ---------- Panel 6 ----------
(function () {
  const g = svg.append('g');
  const x = d3.scaleTime().domain([parse('2023-01-04'), parse('2023-12-22')]).range([888.3, 1257.7]);
  const y = d3.scaleLinear().domain([600, 2400]).range([502, 324]);
  hgrid(g, y, d3.range(800, 2401, 200), 888, 1270);
  g.append('line').attr('x1', 888).attr('x2', 1270).attr('y1', 502).attr('y2', 502).attr('stroke', '#d0d0d0');
  yLabels(g, y, d3.range(600, 2401, 200), 878, d3.format('d'));
  vLabels(g, d => x(parse(d)), rrpTicks, 510, d => d3.timeFormat('%d.%m.%Y')(parse(d)), {size: 10.5});
  g.append('path').datum(rrpOps)
    .attr('d', d3.line().x(d => x(parse(d[0]))).y(d => y(d[1])))
    .attr('fill', 'none').attr('stroke', '#0070c0').attr('stroke-width', 2).attr('stroke-linejoin', 'round');
  g.append('ellipse').attr('cx', 1259).attr('cy', 482).attr('rx', 10).attr('ry', 20).attr('fill', '#f0c4c4').style('mix-blend-mode', 'multiply');
  txt(g, 932, 331, 'New York Fed Reverse Repo Operations', {size: 15.5, weight: 'bold', fill: '#000', len: 262});
})();

// ---------- Panel 7 ----------
(function () {
  panelBg(0, 567, 413, 299);
  const g = svg.append('g');
  const x = d3.scaleLinear().domain([2000, 2024]).range([33, 401]);
  const y = d3.scaleLinear().domain([-3, 5]).range([832, 572]);
  hgrid(g, y, [-2, -1, 1, 2, 3, 4, 5], 33, 413);
  g.append('line').attr('x1', 33).attr('x2', 413).attr('y1', y(0)).attr('y2', y(0)).attr('stroke', '#bfbfbf');
  g.append('g').selectAll('line').data(d3.range(2000, 2025)).join('line')
    .attr('x1', d => x(d)).attr('x2', d => x(d)).attr('y1', y(0)).attr('y2', y(0) + 4).attr('stroke', '#bfbfbf');
  yLabels(g, y, d3.range(-3, 6), 23, d3.format('d'));
  vLabels(g, d => x(d), d3.range(2000, 2025), 838, d3.format('d'), {size: 10.5, fill: '#404040'});
  g.append('path').datum(spread10y3m).attr('d', d3.line().x(d => x(d[0])).y(d => y(d[1])))
    .attr('fill', 'none').attr('stroke', '#0070c0').attr('stroke-width', 1.5);
  g.append('path').datum(spread10y2y).attr('d', d3.line().x(d => x(d[0])).y(d => y(d[1])))
    .attr('fill', 'none').attr('stroke', '#c00000').attr('stroke-width', 1.5);
  txt(g, 143, 589, 'Спред гособлигаций', {size: 15.5, weight: 'bold', fill: '#000', len: 140});
  legLine(g, 120, 823, 24, '#c00000', 2); txt(g, 146, 823, 'Спред 10Y-2Y', {size: 12, fill: '#404040', dy: '0.35em'});
  legLine(g, 225, 823, 24, '#0070c0', 2); txt(g, 251, 823, 'Спред 10Y-3m', {size: 12, fill: '#404040', dy: '0.35em'});
})();

// ---------- Panel 8 ----------
(function () {
  panelBg(427, 563, 426, 307);
  const g = svg.append('g');
  const x = d3.scaleBand().domain(mmfWeeks).range([460, 840]).paddingInner(0.33).paddingOuter(0.16);
  const y = d3.scaleLinear().domain([4000, 6000]).range([781, 594]);
  hgrid(g, y, d3.range(4200, 6001, 200), 458, 842);
  g.append('line').attr('x1', 458).attr('x2', 842).attr('y1', 781).attr('y2', 781).attr('stroke', '#d9d9d9');
  yLabels(g, y, d3.range(4000, 6001, 200), 451, fmtSp);
  g.append('g').selectAll('rect').data(mmfWeeks).join('rect')
    .attr('x', d => x(d)).attr('width', x.bandwidth())
    .attr('y', (d, i) => y(mmfAssets[i])).attr('height', (d, i) => y(4000) - y(mmfAssets[i]))
    .attr('fill', '#00b0f0');
  vLabels(g, d => x(d) + x.bandwidth() / 2, mmfWeeks.filter((d, i) => i % 2 === 0), 788, d => d, {size: 10.5});
  mmfNotes.forEach(([i, v]) => {
    const cxp = x(mmfWeeks[i]) + x.bandwidth() / 2 + (i === 45 ? 3 : 0) - (i === 58 ? 7 : 0);
    txt(g, cxp, y(v) - 9, fmtSp(v), {size: 12.5, weight: 'bold', fill: '#c00000', anchor: 'middle'});
  });
  txt(g, 463, 585, 'Total Net Assets Money Market Mutual Funds, $ bn', {size: 15.5, weight: 'bold', fill: '#000', len: 344});
})();

// ---------- Panel 9 ----------
(function () {
  panelBg(857, 563, 423, 307);
  const g = svg.append('g');
  const x = d3.scaleTime().domain([parse('2023-01-01'), parse('2024-01-01')]).range([889, 1252]);
  const yL = d3.scaleLinear().domain([4, 5.6]).range([812, 580]);
  const yR = d3.scaleLinear().domain([-4, 12]).range([812, 580]);
  hgrid(g, yL, [4.2, 4.4, 4.6, 4.8, 5, 5.2, 5.4, 5.6], 889, 1255);
  g.append('line').attr('x1', 889).attr('x2', 1255).attr('y1', 812).attr('y2', 812).attr('stroke', '#bfbfbf');
  const months = d3.timeMonth.range(parse('2023-01-01'), parse('2024-01-02'));
  g.append('g').selectAll('line').data(months).join('line')
    .attr('x1', d => x(d)).attr('x2', d => x(d)).attr('y1', 812).attr('y2', 816).attr('stroke', '#bfbfbf');
  yLabels(g, yL, [4, 4.2, 4.4, 4.6, 4.8, 5, 5.2, 5.4, 5.6], 878, d3.format(''));
  yLabels(g, yR, d3.range(-4, 13, 2), 1266, d3.format('d'), {anchor: 'middle'});
  vLabels(g, d => x(d), months, 819, d3.timeFormat('%Y-%m-%d'), {size: 10.5, angle: -45, dy: '0.3em'});
  const days = d3.timeDay.range(parse('2023-01-02'), parse('2024-01-04')).filter(d => d.getDay() % 6 !== 0);
  const n = Math.min(days.length, sofrFfrSpread.length);
  const barData = d3.range(n).map(i => [days[i], sofrFfrSpread[i]]).filter(d => d[1] !== 0);
  g.append('g').attr('shape-rendering', 'crispEdges').selectAll('rect').data(barData).join('rect')
    .attr('x', d => x(d[0])).attr('width', 1.05)
    .attr('y', d => Math.min(yR(0), yR(d[1]))).attr('height', d => Math.abs(yR(d[1]) - yR(0)))
    .attr('fill', '#5b9bd5');
  g.append('path').datum(sofr)
    .attr('d', d3.line().curve(d3.curveStepAfter).x(d => x(parse(d[0]))).y(d => yL(d[1])))
    .attr('fill', 'none').attr('stroke', '#00b0f0').attr('stroke-width', 2);
  sofrNotes.forEach(([d, v]) => txt(g, x(parse(d)), yR(v) - 9, v, {size: 12, fill: '#404040', anchor: 'middle'}));
  const last = sofr.find(d => d[0] === '2023-12-28');
  g.append('line').attr('x1', x(parse(last[0])) + 1).attr('x2', x(parse(last[0])) - 1)
    .attr('y1', yL(last[1]) - 16).attr('y2', yL(last[1]) - 2).attr('stroke', '#808080').attr('stroke-width', 0.8);
  txt(g, x(parse(last[0])) + 2, yL(last[1]) - 19, d3.format('.1f')(last[1]), {size: 12, fill: '#404040', anchor: 'middle'});
  g.append('ellipse').attr('cx', 1238).attr('cy', 609).attr('rx', 27).attr('ry', 43).attr('fill', '#f3cccc').style('mix-blend-mode', 'multiply');
  g.append('rect').attr('x', 914).attr('y', 619).attr('width', 22).attr('height', 6).attr('fill', '#2e75b6');
  txt(g, 939, 622, 'спред  SOFR-FFR', {dy: '0.35em'});
  legLine(g, 1022, 622, 20, '#00b0f0', 2);
  txt(g, 1046, 622, 'SOFR', {dy: '0.35em'});
  txt(g, 1002, 589, 'SOFR в США, %', {size: 15.5, weight: 'bold', fill: '#000', len: 101});
})();
</script>
</body></html>
